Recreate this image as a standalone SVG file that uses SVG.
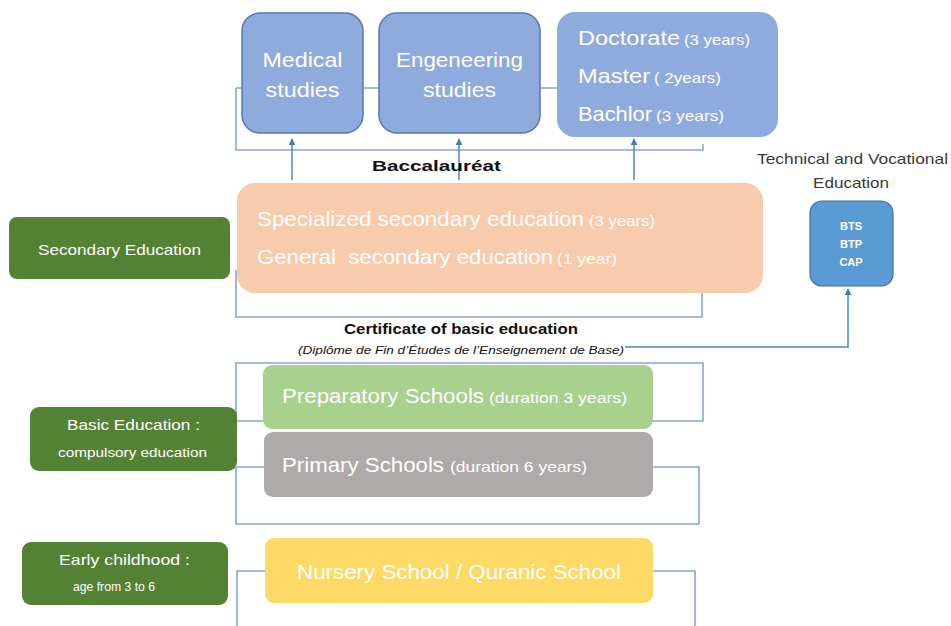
<svg xmlns="http://www.w3.org/2000/svg" width="951" height="626" viewBox="0 0 951 626">
<defs>
<style>
.ln{fill:none;stroke:#7FA9DD;stroke-width:1.6}
.ar{fill:none;stroke:#4A86C8;stroke-width:1.5}
.w{fill:#ffffff;font-family:"Liberation Sans",Arial,sans-serif}
.k{fill:#111;font-family:"Liberation Sans",Arial,sans-serif}
.g{fill:#3a3a3a;font-family:"Liberation Sans",Arial,sans-serif}
.top{fill:#8FAADC}
.grn{fill:#548235}
</style>
<marker id="ah" viewBox="0 0 10 10" refX="9" refY="5" markerWidth="7" markerHeight="7" orient="auto" markerUnits="userSpaceOnUse">
<path d="M0,0 L10,5 L0,10 z" fill="#3C7CC4"/>
</marker>
</defs>
<rect width="951" height="626" fill="#ffffff"/>

<g id="connectors">
<path class="ln" d="M236,88 H557 M236,88 V150 H703 V144"/>
<path class="ln" d="M236,270 V317 H702 V280"/>
<path class="ln" d="M236,363 H703 V421 H236 Z"/>
<path class="ln" d="M236,467 H699 V524 H236 Z"/>
<path class="ln" d="M237,626 V571 H695 V626"/>
<line class="ar" x1="292" y1="180" x2="292" y2="139" marker-end="url(#ah)"/>
<line class="ar" x1="459" y1="180" x2="459" y2="139" marker-end="url(#ah)"/>
<line class="ar" x1="634" y1="180" x2="634" y2="139" marker-end="url(#ah)"/>
<path class="ar" d="M625,347 H848 V289" marker-end="url(#ah)"/>
</g>

<g id="medical">
<rect x="242" y="13" width="121" height="120" rx="18" class="top" stroke="#5677B5" stroke-width="1.5"/>
<text class="w" x="302.5" y="67" font-size="21" text-anchor="middle" textLength="80" lengthAdjust="spacingAndGlyphs">Medical</text>
<text class="w" x="302.5" y="97" font-size="21" text-anchor="middle" textLength="74" lengthAdjust="spacingAndGlyphs">studies</text>
</g>

<g id="engineering">
<rect x="379" y="13" width="161" height="120" rx="18" class="top" stroke="#5677B5" stroke-width="1.5"/>
<text class="w" x="459.5" y="67" font-size="21" text-anchor="middle" textLength="127" lengthAdjust="spacingAndGlyphs">Engeneering</text>
<text class="w" x="459.5" y="97" font-size="21" text-anchor="middle" textLength="73" lengthAdjust="spacingAndGlyphs">studies</text>
</g>

<g id="higher">
<rect x="557" y="12" width="221" height="125" rx="18" class="top"/>
<text class="w" x="578" y="45" font-size="21" textLength="102" lengthAdjust="spacingAndGlyphs">Doctorate</text>
<text class="w" x="684" y="45" font-size="15" textLength="66" lengthAdjust="spacingAndGlyphs">(3 years)</text>
<text class="w" x="578" y="83" font-size="21" textLength="72" lengthAdjust="spacingAndGlyphs">Master</text>
<text class="w" x="654" y="83" font-size="15" textLength="67" lengthAdjust="spacingAndGlyphs">( 2years)</text>
<text class="w" x="578" y="121" font-size="21" textLength="74" lengthAdjust="spacingAndGlyphs">Bachlor</text>
<text class="w" x="656" y="121" font-size="15" textLength="68" lengthAdjust="spacingAndGlyphs">(3 years)</text>
</g>

<g id="baccalaureat">
<text class="k" x="436.5" y="171" font-size="15" font-weight="bold" text-anchor="middle" textLength="129" lengthAdjust="spacingAndGlyphs">Baccalauréat</text>
</g>

<g id="tve-label">
<text class="g" x="852.5" y="164" font-size="15" text-anchor="middle" textLength="191" lengthAdjust="spacingAndGlyphs">Technical and Vocational</text>
<text class="g" x="851" y="188" font-size="15" text-anchor="middle" textLength="76" lengthAdjust="spacingAndGlyphs">Education</text>
</g>

<g id="tve">
<rect x="810" y="201" width="83" height="85" rx="12" fill="#5B9BD5" stroke="#41719C" stroke-width="1.2"/>
<text class="w" x="851" y="230" font-size="11" font-weight="bold" text-anchor="middle">BTS</text>
<text class="w" x="851" y="248" font-size="11" font-weight="bold" text-anchor="middle">BTP</text>
<text class="w" x="851" y="266" font-size="11" font-weight="bold" text-anchor="middle">CAP</text>
</g>

<g id="secondary-label">
<rect x="9" y="217" width="221" height="62" rx="8" class="grn"/>
<text class="w" x="119.5" y="255" font-size="15" text-anchor="middle" textLength="163" lengthAdjust="spacingAndGlyphs">Secondary Education</text>
</g>

<g id="secondary">
<rect x="237" y="183" width="526" height="110" rx="18" fill="#F8CBAD"/>
<text class="w" x="257" y="226" font-size="21" textLength="327" lengthAdjust="spacingAndGlyphs">Specialized secondary education</text>
<text class="w" x="589" y="226" font-size="15" textLength="66" lengthAdjust="spacingAndGlyphs">(3 years)</text>
<text class="w" x="257" y="264" font-size="21" textLength="296" lengthAdjust="spacingAndGlyphs" xml:space="preserve">General  secondary education</text>
<text class="w" x="557" y="264" font-size="15" textLength="60" lengthAdjust="spacingAndGlyphs">(1 year)</text>
</g>

<g id="certificate">
<text class="k" x="461" y="334" font-size="15" font-weight="bold" text-anchor="middle" textLength="234" lengthAdjust="spacingAndGlyphs">Certificate of basic education</text>
<text class="k" x="461" y="354" font-size="11" font-style="italic" text-anchor="middle" textLength="326" lengthAdjust="spacingAndGlyphs">(Diplôme de Fin d’Études de l’Enseignement de Base)</text>
</g>

<g id="basic-label">
<rect x="30" y="407" width="207" height="64" rx="9" class="grn"/>
<text class="w" x="133.5" y="430" font-size="15" text-anchor="middle" textLength="133" lengthAdjust="spacingAndGlyphs">Basic Education :</text>
<text class="w" x="132.5" y="457" font-size="12" text-anchor="middle" textLength="149" lengthAdjust="spacingAndGlyphs">compulsory education</text>
</g>

<g id="preparatory">
<rect x="263" y="365" width="390" height="64" rx="9" fill="#A9D18E"/>
<text class="w" x="282" y="403" font-size="21" textLength="202" lengthAdjust="spacingAndGlyphs">Preparatory Schools</text>
<text class="w" x="489" y="403" font-size="15" textLength="138" lengthAdjust="spacingAndGlyphs">(duration 3 years)</text>
</g>

<g id="primary">
<rect x="264" y="432" width="389" height="65" rx="9" fill="#AEAAAA"/>
<text class="w" x="282" y="472" font-size="21" textLength="162" lengthAdjust="spacingAndGlyphs">Primary Schools</text>
<text class="w" x="450" y="472" font-size="15" textLength="137" lengthAdjust="spacingAndGlyphs">(duration 6 years)</text>
</g>

<g id="early-label">
<rect x="22" y="542" width="206" height="63" rx="9" class="grn"/>
<text class="w" x="124.5" y="565" font-size="15" text-anchor="middle" textLength="131" lengthAdjust="spacingAndGlyphs">Early childhood :</text>
<text class="w" x="114" y="591" font-size="12" text-anchor="middle" textLength="82" lengthAdjust="spacingAndGlyphs">age from 3 to 6</text>
</g>

<g id="nursery">
<rect x="265" y="538" width="388" height="65" rx="9" fill="#FFD966"/>
<text class="w" x="459" y="579" font-size="21" text-anchor="middle" textLength="324" lengthAdjust="spacingAndGlyphs">Nursery School / Quranic School</text>
</g>
</svg>
